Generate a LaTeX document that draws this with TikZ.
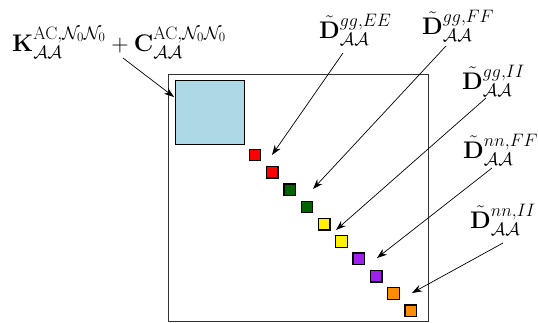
\documentclass[tikz,border=0pt]{standalone}
\usepackage{fix-cm}
\usepackage{amsmath,amssymb}
\DeclareMathSizes{24}{24}{18}{13}
\usetikzlibrary{arrows.meta}
\definecolor{lblue}{HTML}{ADD8E6}
\definecolor{dgreen}{HTML}{006400}
\definecolor{mpurple}{HTML}{A020F0}
\definecolor{morange}{HTML}{FF8C00}
\begin{document}
\begin{tikzpicture}[x=1pt,y=-1pt,
  lbl/.style={anchor=base west,inner sep=0pt,font=\fontsize{24}{28}\selectfont},
  blk/.style={draw=black,line width=1.3pt,minimum size=11.5pt,inner sep=0pt,anchor=center},
  ptr/.style={line width=0.7pt,-{Stealth[length=10pt,width=7pt]}}]
\useasboundingbox (0,0) rectangle (538,322);
% outer matrix
\node[draw=black!80,line width=0.9pt,minimum width=260pt,minimum height=247pt,inner sep=0pt,anchor=north west] (mat) at (168,73.5) {};
% big block
\node[draw=black,line width=1.3pt,fill=lblue,minimum width=69pt,minimum height=64pt,inner sep=0pt,anchor=north west] (big) at (174.5,79.5) {};
% diagonal blocks
\node[blk,fill=red] (r1) at (255,155) {};
\node[blk,fill=red] (r2) at (272.3,172.3) {};
\node[blk,fill=dgreen] (g1) at (289.6,189.6) {};
\node[blk,fill=dgreen] (g2) at (306.9,206.9) {};
\node[blk,fill=yellow] (y1) at (324.2,224.2) {};
\node[blk,fill=yellow] (y2) at (341.5,241.5) {};
\node[blk,fill=mpurple] (p1) at (358.8,258.8) {};
\node[blk,fill=mpurple] (p2) at (376.1,276.1) {};
\node[blk,fill=morange] (o1) at (393.4,293.4) {};
\node[blk,fill=morange] (o2) at (410.7,310.7) {};
% labels
\node[lbl] (lK) at (12,51) {$\mathbf{K}^{\mathrm{AC},\mathcal{N}_0\mathcal{N}_0}_{\mathcal{A}\mathcal{A}}+\mathbf{C}^{\mathrm{AC},\mathcal{N}_0\mathcal{N}_0}_{\mathcal{A}\mathcal{A}}$};
\node[lbl] (lE) at (319,38) {$\tilde{\mathbf{D}}^{gg,EE}_{\mathcal{A}\mathcal{A}}$};
\node[lbl] (lF) at (422,34) {$\tilde{\mathbf{D}}^{gg,FF}_{\mathcal{A}\mathcal{A}}$};
\node[lbl] (lI) at (462,89) {$\tilde{\mathbf{D}}^{gg,II}_{\mathcal{A}\mathcal{A}}$};
\node[lbl] (lnF) at (463,158) {$\tilde{\mathbf{D}}^{nn,FF}_{\mathcal{A}\mathcal{A}}$};
\node[lbl] (lnI) at (470,228) {$\tilde{\mathbf{D}}^{nn,II}_{\mathcal{A}\mathcal{A}}$};
% pointer ends
\coordinate (sK) at (123,58);
\coordinate (tK) at (174,97);
\coordinate (sE) at (343,53);
\coordinate (tE) at (272,155);
\coordinate (sF) at (446,46);
\coordinate (tF) at (313,189);
\coordinate (sI) at (486,98);
\coordinate (tI) at (336,230);
\coordinate (snF) at (492,168);
\coordinate (tnF) at (377,258);
\coordinate (snI) at (503,243);
\coordinate (tnI) at (412,293);
\draw[ptr] (sK) -- (tK);
\draw[ptr] (sE) -- (tE);
\draw[ptr] (sF) -- (tF);
\draw[ptr] (sI) -- (tI);
\draw[ptr] (snF) -- (tnF);
\draw[ptr] (snI) -- (tnI);
\end{tikzpicture}
\end{document}
